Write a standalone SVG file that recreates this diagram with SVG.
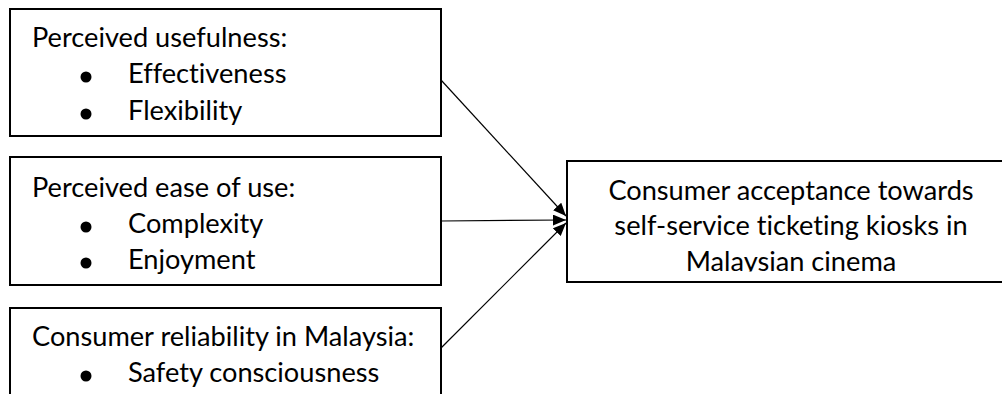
<svg xmlns="http://www.w3.org/2000/svg" width="1002" height="394" viewBox="0 0 1002 394">
  <style>
    .box { fill: #ffffff; stroke: #000000; stroke-width: 2; }
    .t { font-family: Lato, "Liberation Sans", sans-serif; font-size: 27.2px; fill: #000000; font-variant-ligatures: none; }
    .c { text-anchor: middle; }
    .bul { fill: #000000; }
    .conn { stroke: #000000; stroke-width: 1.2; fill: none; marker-end: url(#arr); }
  </style>
  <defs>
    <marker id="arr" markerUnits="userSpaceOnUse" markerWidth="13" markerHeight="11" refX="13" refY="5.5" orient="auto">
      <path d="M0,0 L13,5.5 L0,11 z" fill="#000000"/>
    </marker>
    <clipPath id="clip4">
      <rect x="568" y="162" width="440" height="109.5"/>
    </clipPath>
  </defs>
  <rect width="1002" height="394" fill="#ffffff"/>

  <g id="connectors">
    <line class="conn" x1="441" y1="80" x2="566" y2="216"/>
    <line class="conn" x1="441" y1="221" x2="566" y2="220"/>
    <line class="conn" x1="441" y1="348" x2="566" y2="223"/>
  </g>

  <g id="node-usefulness">
    <rect class="box" x="10" y="9" width="431" height="127"/>
    <text class="t" x="32" y="47">Perceived usefulness:</text>
    <circle class="bul" cx="86" cy="77" r="5.5"/>
    <text class="t" x="128" y="83">Effectiveness</text>
    <circle class="bul" cx="86" cy="114" r="5.5"/>
    <text class="t" x="128" y="120">Flexibility</text>
  </g>

  <g id="node-ease">
    <rect class="box" x="10" y="157" width="431" height="128"/>
    <text class="t" x="32" y="197">Perceived ease of use:</text>
    <circle class="bul" cx="86" cy="227" r="5.5"/>
    <text class="t" x="128" y="233">Complexity</text>
    <circle class="bul" cx="86" cy="263" r="5.5"/>
    <text class="t" x="128" y="269">Enjoyment</text>
  </g>

  <g id="node-reliability">
    <rect class="box" x="10" y="308" width="431" height="100"/>
    <text class="t" x="32" y="346">Consumer reliability in Malaysia:</text>
    <circle class="bul" cx="86" cy="376" r="5.5"/>
    <text class="t" x="128" y="382">Safety consciousness</text>
  </g>

  <g id="node-acceptance">
    <rect class="box" x="567" y="161" width="448" height="121"/>
    <g clip-path="url(#clip4)">
      <text class="t c" x="791" y="200">Consumer acceptance towards</text>
      <text class="t c" x="791" y="235">self-service ticketing kiosks in</text>
      <text class="t c" x="791" y="271">Malaysian cinema</text>
    </g>
  </g>
</svg>
